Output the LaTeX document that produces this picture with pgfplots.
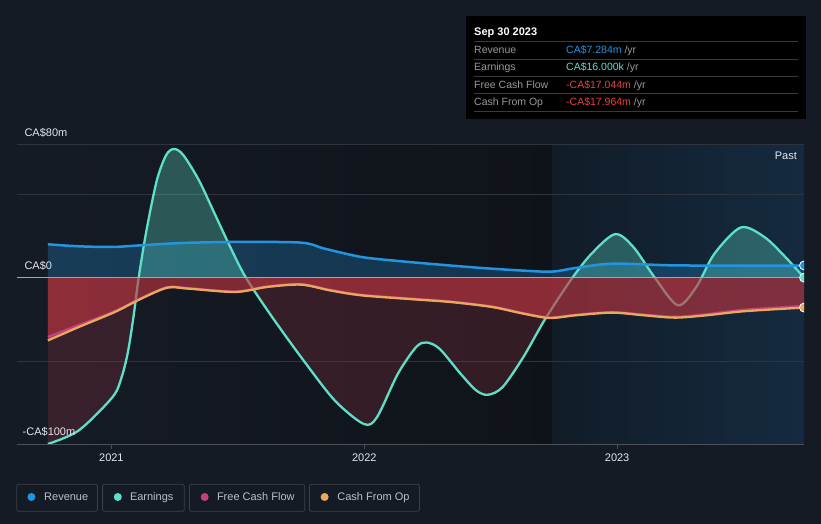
\documentclass[border=0pt]{standalone}
\usepackage{pgfplots}
\pgfplotsset{compat=1.18}
\usepackage{fontspec}
\setmainfont{Liberation Sans}
\definecolor{bg}{HTML}{151B25}
\definecolor{histR}{HTML}{0F1319}
\definecolor{pastL}{HTML}{111C27}
\definecolor{pastR}{HTML}{152A40}
\definecolor{gridc}{HTML}{2E343D}
\definecolor{axisc}{HTML}{4A5059}
\definecolor{zeroc}{HTML}{A3A6AB}
\definecolor{rev}{HTML}{2394DF}
\definecolor{earn}{HTML}{5EE0C8}
\definecolor{fcf}{HTML}{C2407E}
\definecolor{cfo}{HTML}{E9A85A}
\definecolor{redfill}{HTML}{C03540}
\definecolor{darkred}{HTML}{8A3040}
\definecolor{lab}{HTML}{E4E6E9}
\definecolor{leg}{HTML}{BCC0C6}
\definecolor{legbox}{HTML}{3A404A}
\definecolor{ttgrey}{HTML}{9A9A9A}
\definecolor{ttline}{HTML}{3A3A3A}
\definecolor{ttred}{HTML}{E8413F}

\pgfplotstableread{
x y
2020.749 20.0
2020.870 18.8
2021.004 18.4
2021.118 19.4
2021.284 20.8
2021.491 21.4
2021.750 21.0
2021.843 17.4
2021.988 12.4
2022.133 10.0
2022.298 7.8
2022.464 5.8
2022.629 4.2
2022.743 3.6
2022.836 5.8
2022.981 8.4
2023.209 7.4
2023.458 7.2
2023.739 7.284
}\revtab

\pgfplotstableread{
x y
2020.749 -99.8
2020.870 -91.8
2021.004 -71.8
2021.040 -60.0
2021.065 -45.0
2021.087 -24.0
2021.108 0
2021.139 28.5
2021.180 58.5
2021.217 73.6
2021.248 77.2
2021.284 73.6
2021.346 58.5
2021.408 38.5
2021.470 18.4
2021.532 0
2021.636 -23.7
2021.760 -49.7
2021.884 -73.8
2021.998 -87.8
2022.050 -83.8
2022.133 -57.7
2022.205 -41.7
2022.246 -38.9
2022.298 -42.7
2022.381 -57.7
2022.443 -67.7
2022.489 -70.3
2022.547 -65.7
2022.629 -47.7
2022.712 -25.7
2022.816 -1.6
2022.899 14.4
2022.992 26.1
2023.064 18.4
2023.147 0.4
2023.240 -16.6
2023.313 -5.6
2023.385 14.4
2023.489 30.1
2023.582 24.4
2023.665 12.4
2023.739 0.016
}\earntab

\pgfplotstableread{
x y
2020.749 -37.7
2020.870 -29.7
2021.014 -20.6
2021.118 -12.6
2021.222 -6.0
2021.304 -6.6
2021.491 -8.6
2021.615 -5.6
2021.750 -4.2
2021.863 -7.6
2021.988 -10.6
2022.195 -13.0
2022.340 -14.6
2022.505 -17.6
2022.629 -21.6
2022.733 -24.2
2022.836 -22.6
2022.981 -21.0
2023.106 -22.6
2023.230 -24.0
2023.354 -22.6
2023.499 -20.2
2023.739 -17.964
}\cfotab

\pgfplotstableread{
x y
2020.749 -35.6
2020.870 -28.6
2021.014 -20.2
2021.118 -12.4
2021.222 -5.8
2021.304 -6.4
2021.491 -8.4
2021.615 -5.4
2021.750 -4.0
2021.863 -7.4
2021.988 -10.4
2022.195 -12.8
2022.340 -14.4
2022.505 -17.4
2022.629 -21.4
2022.733 -24.0
2022.836 -22.4
2022.981 -20.8
2023.106 -22.3
2023.230 -23.6
2023.354 -22.0
2023.499 -19.4
2023.739 -17.044
}\fcftab

\begin{document}
\begin{tikzpicture}
\fill[bg] (0,0) rectangle (821pt,524pt);
\shade[left color=bg, right color=histR] (48.2pt,79.7pt) rectangle (552.4pt,379.7pt);
\shade[left color=pastL, right color=pastR] (552.4pt,79.7pt) rectangle (804pt,379.7pt);
\begin{axis}[
  at={(16.8pt,79.7pt)}, anchor=south west,
  scale only axis, width=787.2pt, height=300pt,
  xmin=2020.626, xmax=2023.739, ymin=-100, ymax=80,
  axis line style={draw=none},
  xtick={2021,2022,2023}, xticklabels={2021,2022,2023},
  xtick pos=bottom, tick align=outside, major tick length=5pt,
  x tick style={color=axisc, line width=0.8pt},
  ytick={-50,50,80}, yticklabels={}, y tick style={draw=none},
  ymajorgrids, grid style={color=gridc, line width=0.8pt},
  xticklabel style={font=\fontsize{11}{13}\selectfont, text=lab, yshift=-1pt},
  clip marker paths=true,
  every axis plot/.append style={smooth},
]
% revenue fill
\addplot[draw=none, fill=rev, fill opacity=0.27] table {\revtab} \closedcycle;
% earnings fills
\begin{scope}
\clip (axis cs:2020.5,0) rectangle (axis cs:2024,90);
\addplot[draw=none, fill=earn, fill opacity=0.32] table {\earntab} \closedcycle;
\end{scope}
\begin{scope}
\clip (axis cs:2020.5,-110) rectangle (axis cs:2024,0);
\addplot[draw=none, fill=darkred, fill opacity=0.3] table {\earntab} \closedcycle;
\end{scope}
% earnings line
\addplot[earn, line width=2.3pt] table {\earntab};
% cash flow fill
\addplot[draw=none, fill=redfill, fill opacity=0.62] table {\cfotab} \closedcycle;
% zero line
\draw[zeroc, line width=1pt] (axis cs:2020.626,0) -- (axis cs:2023.739,0);
% lines
\addplot[rev, line width=2.5pt] table {\revtab};
\addplot[fcf, line width=2.5pt] table {\fcftab};
\addplot[cfo, line width=2.3pt] table {\cfotab};
% end markers
\addplot[only marks, mark=*, mark size=4.5pt, mark options={fill=rev, draw=white, line width=0.8pt}] coordinates {(2023.739,7.284)};
\addplot[only marks, mark=*, mark size=4.5pt, mark options={fill=earn, draw=white, line width=0.8pt}] coordinates {(2023.739,0.016)};
\addplot[only marks, mark=*, mark size=4.5pt, mark options={fill=cfo, draw=white, line width=0.8pt}] coordinates {(2023.739,-17.964)};
\end{axis}
% bottom axis line
\draw[axisc, line width=1pt] (16.8pt,79.7pt) -- (804pt,79.7pt);
% y labels
\node[anchor=west, inner sep=0, text=lab, font=\fontsize{11}{13}\selectfont] at (24.3pt,391.3pt) {CA\$80m};
\node[anchor=west, inner sep=0, text=lab, font=\fontsize{11}{13}\selectfont] at (24.3pt,258.3pt) {CA\$0};
\node[anchor=west, inner sep=0, text=lab, font=\fontsize{11}{13}\selectfont] at (22.5pt,92pt) {-CA\$100m};
\node[anchor=east, inner sep=0, text=lab, font=\fontsize{11}{13}\selectfont] at (797pt,368pt) {Past};
% tooltip
\fill[black] (466pt,405pt) rectangle (806pt,508pt);
\node[anchor=base west, inner sep=0, text=white, font=\fontsize{11}{13}\selectfont\bfseries] at (474pt,488.5pt) {Sep 30 2023};
\foreach \yy in {482.3,465,447.7,430.4,413} {\draw[ttline, line width=0.8pt] (474pt,\yy pt) -- (798pt,\yy pt);}
\begin{scope}[every node/.style={anchor=base west, inner sep=0, font=\fontsize{10.5}{12}\selectfont}]
\node[text=ttgrey] at (474pt,470.2pt) {Revenue};
\node[text=ttgrey] at (474pt,453pt) {Earnings};
\node[text=ttgrey] at (474pt,435.7pt) {Free Cash Flow};
\node[text=ttgrey] at (474pt,418.4pt) {Cash From Op};
\node at (566pt,470.2pt) {\textcolor{rev}{CA\$7.284m}\space\textcolor{ttgrey}{/yr}};
\node at (566pt,453pt) {\textcolor{earn}{CA\$16.000k}\space\textcolor{ttgrey}{/yr}};
\node at (566pt,435.7pt) {\textcolor{ttred}{-CA\$17.044m}\space\textcolor{ttgrey}{/yr}};
\node at (566pt,418.4pt) {\textcolor{ttred}{-CA\$17.964m}\space\textcolor{ttgrey}{/yr}};
\end{scope}
% legend
\begin{scope}[every node/.style={anchor=base west, inner sep=0, text=leg, font=\fontsize{11}{13}\selectfont}]
\draw[legbox, rounded corners=2pt, line width=0.8pt] (16.8pt,12.7pt) rectangle (97.4pt,39.7pt);
\draw[legbox, rounded corners=2pt, line width=0.8pt] (102.6pt,12.7pt) rectangle (184.3pt,39.7pt);
\draw[legbox, rounded corners=2pt, line width=0.8pt] (189.5pt,12.7pt) rectangle (304.7pt,39.7pt);
\draw[legbox, rounded corners=2pt, line width=0.8pt] (309.4pt,12.7pt) rectangle (419.4pt,39.7pt);
\fill[rev] (31.4pt,27pt) circle (4pt);
\fill[earn] (117.8pt,27pt) circle (4pt);
\fill[fcf] (204.7pt,27pt) circle (4pt);
\fill[cfo] (324.6pt,27pt) circle (4pt);
\node at (44pt,23pt) {Revenue};
\node at (129.8pt,23pt) {Earnings};
\node at (216.8pt,23pt) {Free Cash Flow};
\node at (337.2pt,23pt) {Cash From Op};
\end{scope}
\pgfresetboundingbox
\useasboundingbox (0,0) rectangle (821pt,524pt);
\end{tikzpicture}
\end{document}
